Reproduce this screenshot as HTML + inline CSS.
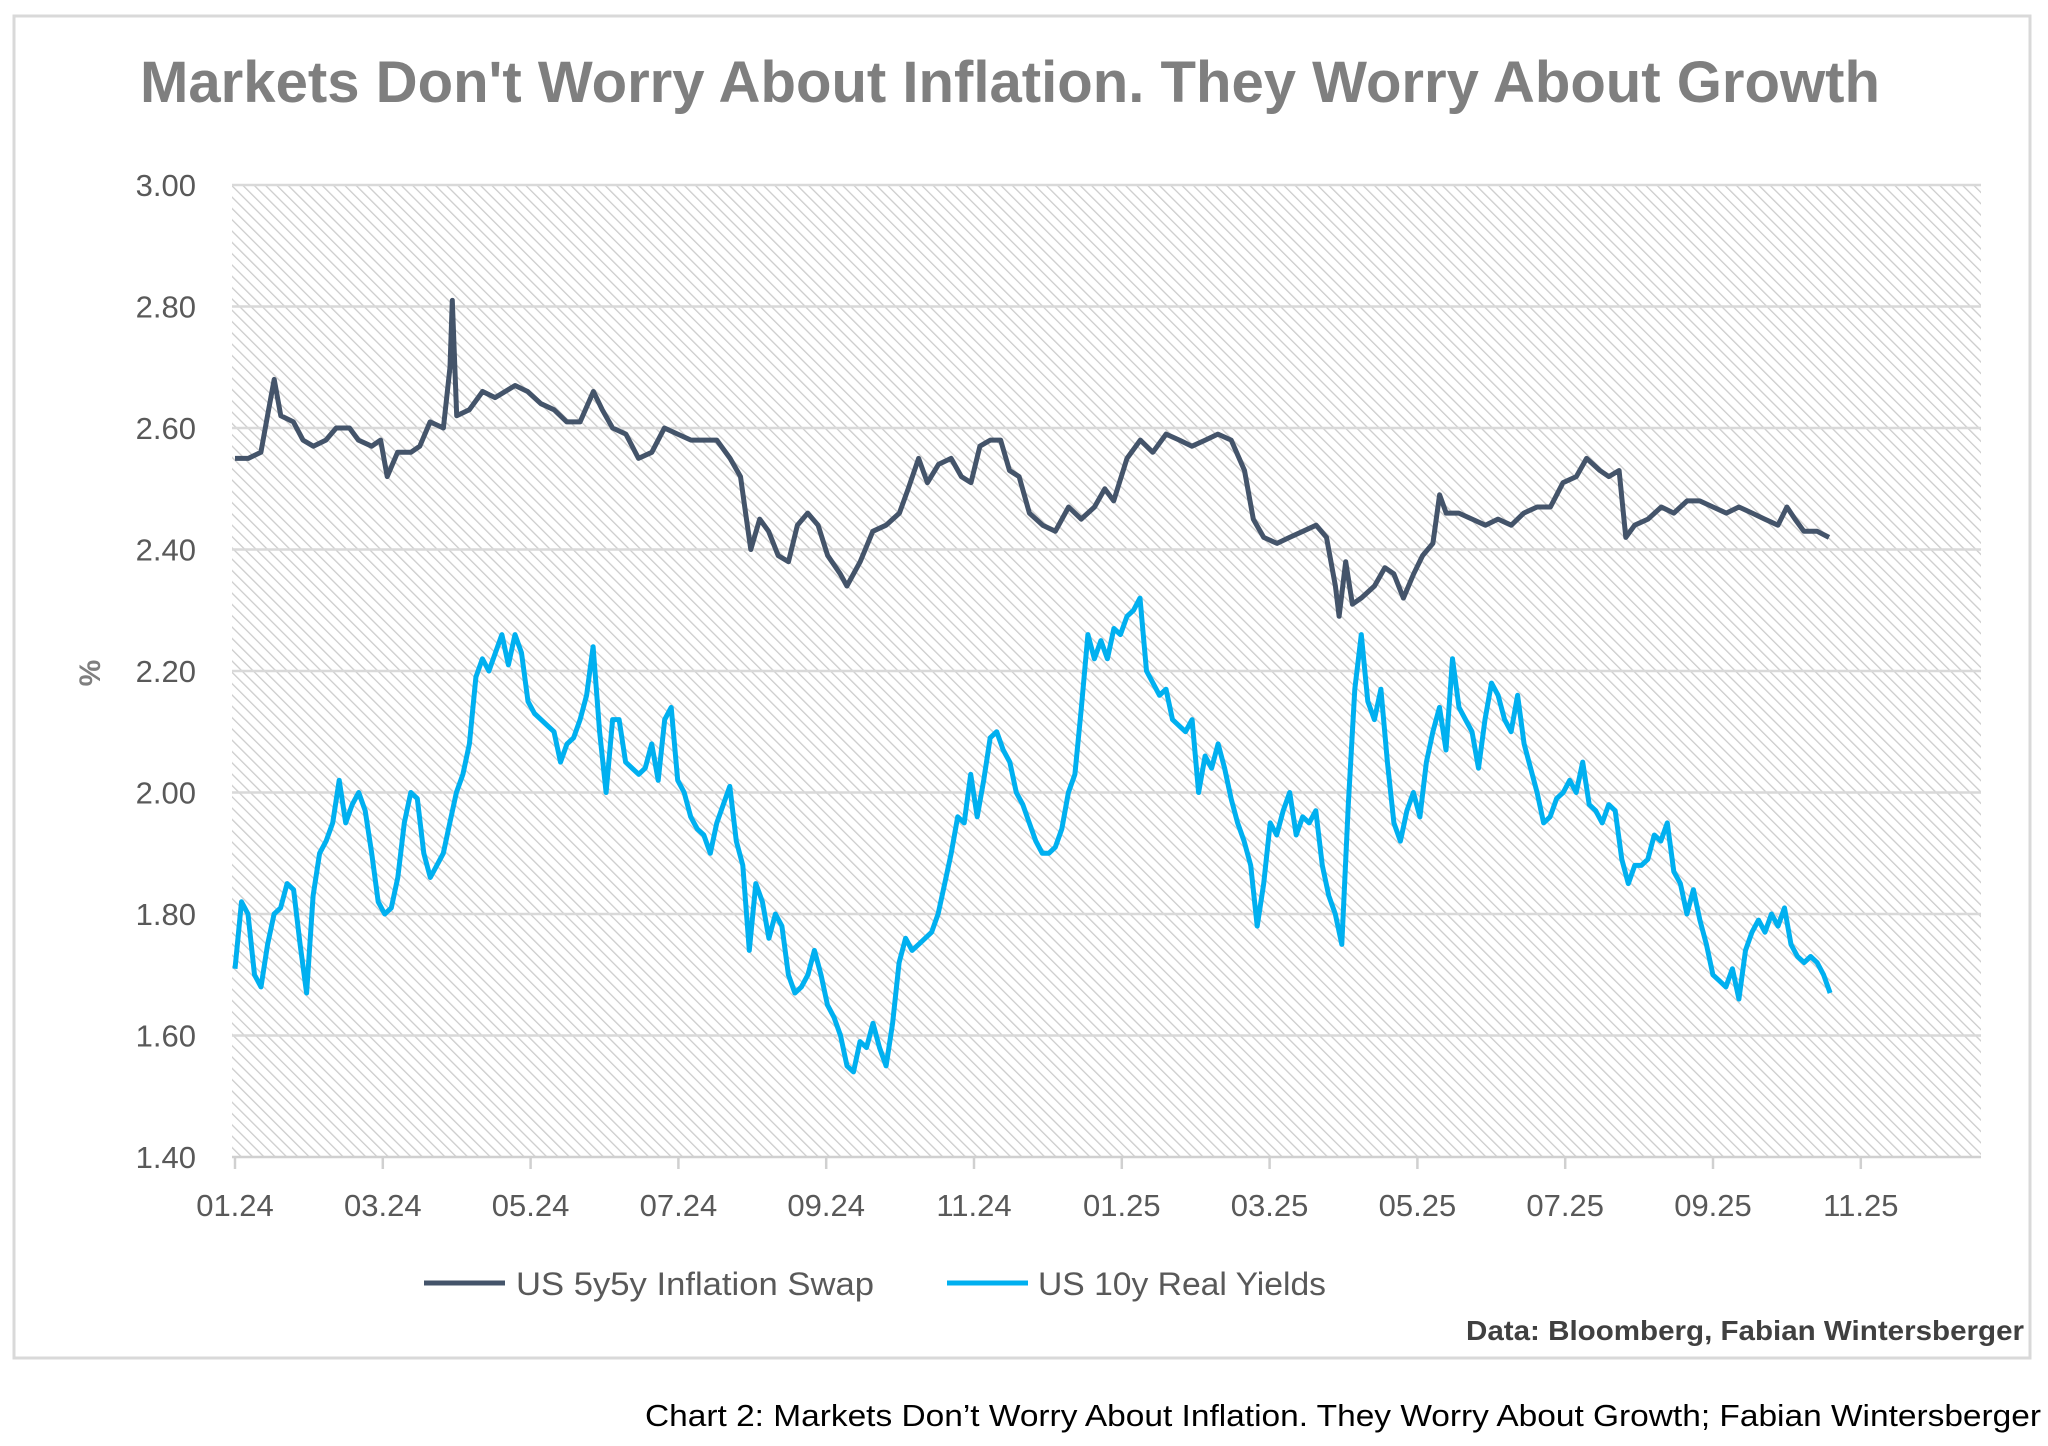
<!DOCTYPE html>
<html><head><meta charset="utf-8"><style>
html,body{margin:0;padding:0;background:#fff;}
svg{display:block;}
text{font-family:"Liberation Sans",sans-serif;}
</style></head><body>
<svg id="chart" width="2048" height="1446" viewBox="0 0 2048 1446" xmlns="http://www.w3.org/2000/svg">
<defs>
<pattern id="hatch" patternUnits="userSpaceOnUse" width="8" height="8" patternTransform="rotate(-45)">
<rect width="8" height="8" fill="#ffffff"/>
<line x1="0" y1="0" x2="0" y2="8" stroke="#cccccc" stroke-width="2.6"/>
</pattern>
</defs>
<rect x="14" y="16" width="2016" height="1342" fill="#fff" stroke="#d9d9d9" stroke-width="3"/>
<text x="140" y="102" font-size="58" font-weight="bold" fill="#7f7f7f" textLength="1740" lengthAdjust="spacingAndGlyphs">Markets Don't Worry About Inflation. They Worry About Growth</text>
<rect x="232" y="185" width="1749" height="972" fill="url(#hatch)"/>
<g id="grid"></g>
<g id="yticks"></g>
<g id="xticks"></g>
<text transform="translate(100,673) rotate(-90)" text-anchor="middle" font-size="30" font-weight="bold" fill="#7f7f7f">%</text>
<g id="series"></g>
<g>
<g>
<line x1="424" y1="1283" x2="505" y2="1283" stroke="#44546a" stroke-width="5"/>
<text x="516" y="1295" font-size="32" fill="#595959" textLength="358" lengthAdjust="spacingAndGlyphs">US 5y5y Inflation Swap</text>
</g>
<g>
<line x1="947" y1="1283" x2="1028" y2="1283" stroke="#00b0f0" stroke-width="5"/>
<text x="1038" y="1295" font-size="32" fill="#595959" textLength="288" lengthAdjust="spacingAndGlyphs">US 10y Real Yields</text>
</g>
</g>
<text x="2024" y="1340" text-anchor="end" font-size="28" font-weight="bold" fill="#404040" textLength="558" lengthAdjust="spacingAndGlyphs">Data: Bloomberg, Fabian Wintersberger</text>
<text x="2041" y="1426" text-anchor="end" font-size="31" fill="#000" textLength="1396" lengthAdjust="spacingAndGlyphs">Chart 2: Markets Don’t Worry About Inflation. They Worry About Growth; Fabian Wintersberger</text>
</svg>
<script>
// ---- data ----
var yTicks = [1.40,1.60,1.80,2.00,2.20,2.40,2.60,2.80,3.00];
var xTickLabels = ["01.24","03.24","05.24","07.24","09.24","11.24","01.25","03.25","05.25","07.25","09.25","11.25"];
var xTickMonths = [0,2,4,6,8,10,12,14,16,18,20,22];
// swap: months since Jan 2024
var swapMonths = [0,0.18,0.35,0.44,0.53,0.62,0.79,0.92,1.06,1.23,1.37,1.55,1.67,1.85,1.97,2.06,2.20,2.38,2.50,2.64,2.82,2.91,2.94,3.00,3.17,3.35,3.52,3.79,3.96,4.14,4.32,4.49,4.67,4.85,4.97,5.11,5.29,5.46,5.64,5.81,5.99,6.17,6.34,6.52,6.70,6.84,6.91,6.98,7.10,7.22,7.35,7.49,7.61,7.75,7.89,8.02,8.19,8.28,8.46,8.63,8.81,8.99,9.11,9.25,9.37,9.52,9.69,9.83,9.96,10.08,10.22,10.36,10.48,10.61,10.75,10.93,11.10,11.28,11.45,11.63,11.77,11.89,12.07,12.25,12.42,12.60,12.78,12.95,13.13,13.30,13.48,13.66,13.78,13.92,14.10,14.27,14.45,14.63,14.77,14.89,14.94,15.03,15.12,15.24,15.42,15.56,15.68,15.81,15.95,16.07,16.21,16.30,16.39,16.56,16.74,16.92,17.09,17.27,17.44,17.62,17.80,17.97,18.15,18.29,18.47,18.59,18.73,18.82,18.94,19.12,19.30,19.47,19.65,19.82,20.00,20.18,20.35,20.53,20.70,20.88,21.00,21.11,21.23,21.41,21.57];
var swapValues = [2.55,2.55,2.56,2.62,2.68,2.62,2.61,2.58,2.57,2.58,2.60,2.60,2.58,2.57,2.58,2.52,2.56,2.56,2.57,2.61,2.60,2.70,2.81,2.62,2.63,2.66,2.65,2.67,2.66,2.64,2.63,2.61,2.61,2.66,2.63,2.60,2.59,2.55,2.56,2.60,2.59,2.58,2.58,2.58,2.55,2.52,2.46,2.40,2.45,2.43,2.39,2.38,2.44,2.46,2.44,2.39,2.36,2.34,2.38,2.43,2.44,2.46,2.50,2.55,2.51,2.54,2.55,2.52,2.51,2.57,2.58,2.58,2.53,2.52,2.46,2.44,2.43,2.47,2.45,2.47,2.50,2.48,2.55,2.58,2.56,2.59,2.58,2.57,2.58,2.59,2.58,2.53,2.45,2.42,2.41,2.42,2.43,2.44,2.42,2.34,2.29,2.38,2.31,2.32,2.34,2.37,2.36,2.32,2.36,2.39,2.41,2.49,2.46,2.46,2.45,2.44,2.45,2.44,2.46,2.47,2.47,2.51,2.52,2.55,2.53,2.52,2.53,2.42,2.44,2.45,2.47,2.46,2.48,2.48,2.47,2.46,2.47,2.46,2.45,2.44,2.47,2.45,2.43,2.43,2.42];
// real yields: regular sampling starting Jan 2024
var realStartMonth = 0;
var realStepMonths = 0.0881;
var realValues = [1.71,1.82,1.80,1.70,1.68,1.75,1.80,1.81,1.85,1.84,1.75,1.67,1.83,1.90,1.92,1.95,2.02,1.95,1.98,2.00,1.97,1.90,1.82,1.80,1.81,1.86,1.95,2.00,1.99,1.90,1.86,1.88,1.90,1.95,2.00,2.03,2.08,2.19,2.22,2.20,2.23,2.26,2.21,2.26,2.23,2.15,2.13,2.12,2.11,2.10,2.05,2.08,2.09,2.12,2.16,2.24,2.10,2.00,2.12,2.12,2.05,2.04,2.03,2.04,2.08,2.02,2.12,2.14,2.02,2.00,1.96,1.94,1.93,1.90,1.95,1.98,2.01,1.92,1.88,
1.74,1.85,1.82,1.76,1.80,1.78,1.70,1.67,1.68,1.70,1.74,1.70,1.65,1.63,1.60,1.55,1.54,1.59,1.58,1.62,1.58,1.55,1.62,1.72,1.76,1.74,1.75,1.76,1.77,1.80,1.85,1.90,1.96,1.95,2.03,1.96,2.02,2.09,2.10,2.07,2.05,2.00,1.98,1.95,1.92,1.90,1.90,1.91,1.94,2.00,2.03,2.14,2.26,2.22,2.25,2.22,2.27,2.26,2.29,2.30,2.32,2.20,2.18,2.16,2.17,2.12,2.11,2.10,2.12,2.00,2.06,2.04,2.08,2.04,1.99,1.95,1.92,1.88,1.78,1.85,1.95,1.93,1.97,2.00,1.93,1.96,1.95,1.97,1.88,1.83,1.80,1.75,1.98,2.17,2.26,2.15,2.12,2.17,2.05,1.95,1.92,1.97,2.00,1.96,2.05,2.10,2.14,2.07,2.22,2.14,2.12,2.10,2.04,2.12,2.18,2.16,2.12,2.10,2.16,2.08,2.04,2.00,1.95,1.96,1.99,2.00,2.02,2.00,2.05,1.98,1.97,1.95,1.98,1.97,1.89,1.85,1.88,1.88,1.89,1.93,1.92,1.95,1.87,1.85,1.80,1.84,1.79,1.75,1.70,1.69,1.68,1.71,1.66,1.74,1.77,1.79,1.77,1.80,1.78,1.81,1.75,1.73,1.72,1.73,1.72,1.70,1.67];

// ---- axes ----
var NS = "http://www.w3.org/2000/svg";
var PL = 232, PR = 1981, PT = 185, PB = 1157;
var X0 = 235, MONTH_PX = 73.9;
function xScale(m){ return X0 + m * MONTH_PX; }
function yScale(v){ return PB - (v - 1.40) / 1.60 * (PB - PT); }
function mk(tag, attrs){ var e = document.createElementNS(NS, tag); for (var k in attrs) e.setAttribute(k, attrs[k]); return e; }

var grid = document.getElementById('grid');
var yt = document.getElementById('yticks');
yTicks.forEach(function(v, i){
  var y = yScale(v);
  if (i > 0) {
    var gl = mk('line', {x1: PL, x2: PR, y1: y, y2: y, stroke: '#d9d9d9', 'stroke-width': 2.5});
    
    
    grid.appendChild(gl);
  }
  var t = mk('text', {x: 196, y: y + 11, 'text-anchor': 'end', 'font-size': 31, fill: '#595959'});
  t.textContent = v.toFixed(2);
  
  
  yt.appendChild(t);
});
var axis = mk('line', {x1: PL, x2: PR, y1: PB, y2: PB, stroke: '#d0d0d0', 'stroke-width': 2.5});


grid.appendChild(axis);

var xt = document.getElementById('xticks');
xTickLabels.forEach(function(lab, i){
  var x = xScale(xTickMonths[i]);
  var tk = mk('line', {x1: x, x2: x, y1: PB, y2: PB + 12, stroke: '#d0d0d0', 'stroke-width': 2.5});
  
  
  xt.appendChild(tk);
  var t = mk('text', {x: x, y: 1216, 'text-anchor': 'middle', 'font-size': 31, fill: '#595959'});
  t.textContent = lab;
  
  
  xt.appendChild(t);
});

// ---- series ----
var sg = document.getElementById('series');
var d1 = swapMonths.map(function(m, i){ return (i ? 'L' : 'M') + xScale(m).toFixed(1) + ',' + yScale(swapValues[i]).toFixed(1); }).join('');
var p1 = mk('path', {d: d1, fill: 'none', stroke: '#44546a', 'stroke-width': 5, 'stroke-linejoin': 'round'});


sg.appendChild(p1);
var d2 = realValues.map(function(v, i){ return (i ? 'L' : 'M') + xScale(realStartMonth + i * realStepMonths).toFixed(1) + ',' + yScale(v).toFixed(1); }).join('');
var p2 = mk('path', {d: d2, fill: 'none', stroke: '#00b0f0', 'stroke-width': 5, 'stroke-linejoin': 'round'});


sg.appendChild(p2);
</script>
</body></html>
